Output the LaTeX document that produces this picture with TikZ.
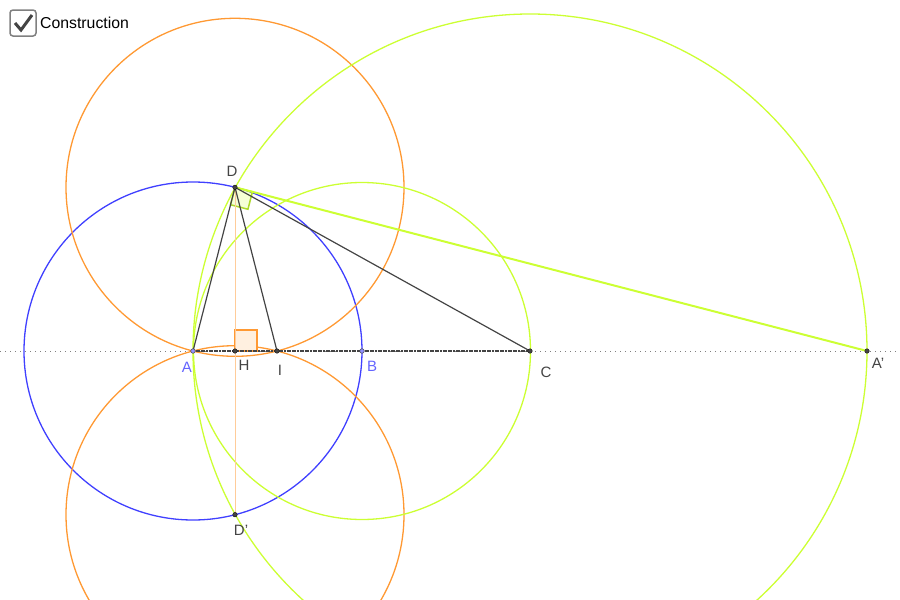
\documentclass[tikz,border=0pt]{standalone}
\usepackage{fontspec}
\setmainfont{Liberation Sans}
\usetikzlibrary{calc}
\definecolor{ggorange}{RGB}{255,153,51}
\definecolor{gglime}{RGB}{204,255,51}
\definecolor{ggblue}{RGB}{64,64,255}
\definecolor{gglabel}{RGB}{100,100,255}
\definecolor{ggdark}{RGB}{68,68,68}
\begin{document}
\begin{tikzpicture}[x=1pt,y=-1pt]
        \tikzstyle{every node}=[font=\fontsize{15}{18}\selectfont, text=ggdark, inner sep=0pt]
        \tikzstyle{pt}=[fill=ggdark, draw=black, line width=0.3pt]
        \tikzstyle{side}=[ggdark, line width=1.2pt]
        \tikzstyle{circ}=[line width=1.3pt]

        \useasboundingbox (0,0) rectangle (900,600);
        \clip (0,0) rectangle (900,600);

        \coordinate (A)  at (193,351);
        \coordinate (H)  at (235,351);
        \coordinate (I)  at (277,351);
        \coordinate (B)  at (362,351);
        \coordinate (C)  at (530,351);
        \coordinate (A') at (867,351);
        \coordinate (D)  at (235,187.3);
        \coordinate (D') at (235,514.7);

        % axis
        \draw[gray, line width=0.8pt, dash pattern=on 1.2pt off 3.8pt] (0,351) -- (900,351);

        % circles
        \draw[circ, ggblue] (A) circle (169);
        \draw[circ, ggorange] (D) circle (169);
        \draw[circ, ggorange] (D') circle (169);
        \draw[circ, gglime] (B) circle (168.5);
        \draw[circ, gglime] (C) circle (337);

        % right angles
        \draw[ggorange, line width=1.5pt, fill=ggorange!15] (H) rectangle ++(22,-21);
        \coordinate (u) at ($(D)!18pt!(A)$);
        \coordinate (v) at ($(D)!18pt!(A')$);
        \draw[gglime!85!black, line width=1.5pt, fill=gglime, fill opacity=0.2]
            (D) -- (u) -- ($(u)+(v)-(D)$) -- (v) -- cycle;

        \draw[ggorange!50, line width=1pt] (D) -- (D');
        \draw[gglime, line width=2pt] (D) -- (A');
        \draw[ggdark, line width=1.6pt, dash pattern=on 2pt off 0.6pt] (A) -- (C);
        \draw[side] (A) -- (D) -- (I);
        \draw[side] (D) -- (C);

        \foreach \p in {H,I,C,A',D,D'} \fill[pt] (\p) circle (2.3);
        \foreach \p in {A,B} \filldraw[fill=gglabel!70, draw=ggdark, line width=0.5pt] (\p) circle (2.3);

        % labels
        \node[text=gglabel] (lA) at (187,367) {A};
        \node[text=gglabel] (lB) at (372,366) {B};
        \node (lH) at (244,365) {H};
        \node (lI) at (280,370) {I};
        \node (lC) at (546,372) {C};
        \node (lA') at (878,363) {A'};
        \node (lD) at (232,171) {D};
        \node (lD') at (241,530) {D'};

        % checkbox
        \draw[gray, line width=1.5pt, rounded corners=3pt] (10,10) rectangle (36,36);
        \draw[ggdark, line width=3pt] (15,23) -- (21,30) -- (32,15);
        \node[anchor=west, text=black, font=\fontsize{15.8}{18}\selectfont] (lbl) at (40,23) {Construction};
\end{tikzpicture}
\end{document}
